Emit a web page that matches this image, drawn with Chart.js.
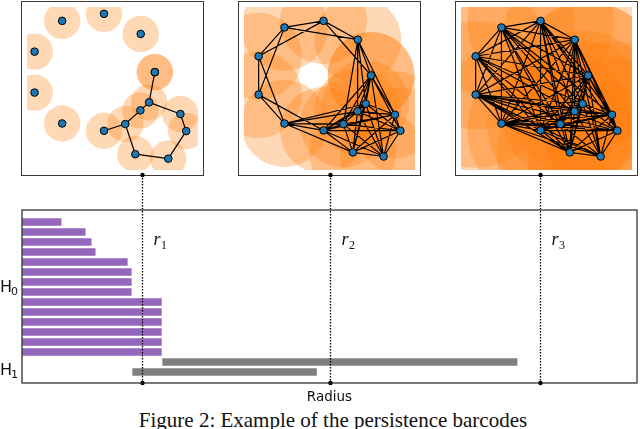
<!DOCTYPE html>
<html>
<head>
<meta charset="utf-8">
<script src="https://cdn.jsdelivr.net/npm/chart.js@4.4.1/dist/chart.umd.min.js"></script>
<style>
  body { margin: 0; width: 640px; height: 429px; overflow: hidden; background: #fff; position: relative; }
  .panel { position: absolute; top: 1px; width: 181px; height: 173px; border: 1px solid #3a3a3a; }
  .panel canvas { display: block; }
  #barcode { position: absolute; left: 0; top: 0; z-index: 2; pointer-events: none; }
  #caption { position: absolute; left: 0; top: 410px; width: 666px; text-align: center;
             font: 21px/21px "Liberation Serif", serif; color: #111; white-space: nowrap; }
</style>
</head>
<body>
<div class="panel" style="left:21px"><canvas id="p1" width="181" height="173"></canvas></div>
<div class="panel" style="left:238px"><canvas id="p2" width="181" height="173"></canvas></div>
<div class="panel" style="left:455px"><canvas id="p3" width="181" height="173"></canvas></div>
<canvas id="barcode" width="640" height="429"></canvas>
<div id="caption">Figure 2: Example of the persistence barcodes</div>

<script>
// ---- point cloud (same 16 points in every panel, one point is doubled) ----
const cloudX = [43.3, 84.7, 121.0, 16.0, 135.0, 135.0, 16.0, 129.3, 120.7, 160.3, 43.3, 105.7, 84.7, 166.0, 115.7, 148.3];
const cloudY = [151.3, 158.3, 138.3, 120.7, 100.3, 100.3, 80.0, 70.3, 62.3, 58.7, 49.3, 48.7, 42.0, 41.7, 18.7, 14.3];

// ball radius for each snapshot r1, r2, r3
const radii = [18.0, 46.0, 77.5];
const radiusNames = ['1', '2', '3'];

// edges of the first snapshot (index pairs into the cloud)
const edgesFirst = [[4, 7], [7, 8], [7, 9], [8, 11], [11, 12], [11, 14], [14, 15], [15, 13], [13, 9]];

// axis limits of the three snapshots
const panelXLim = [[8.5, 177.7], [0.5, 181.5], [0.5, 181.5]];
const panelYLim = [[3.0, 165.1], [0, 173], [0, 173]];

// ---- barcode ----
const h0Deaths = [5.9, 9.5, 10.4, 11.0, 15.8, 16.4, 16.4, 16.4, 20.9, 20.9, 20.9, 20.9, 20.9, 20.9];
const h1Births = [21.0, 16.5];
const h1Deaths = [74.1, 44.1];
const radiusMax = 92;

const PANEL_BOTTOM = 175;

const cloud = cloudX.map((x, i) => ({ x, y: cloudY[i] }));

function segments(pairs) {
  const out = [];
  pairs.forEach(([a, b]) => out.push(cloud[a], cloud[b], { x: null, y: null }));
  return out;
}

// all pairs whose balls touch
function pairsWithin(r) {
  const pairs = [];
  for (let i = 0; i < cloud.length; i++)
    for (let j = i + 1; j < cloud.length; j++)
      if (Math.hypot(cloudX[i] - cloudX[j], cloudY[i] - cloudY[j]) <= 2 * r) pairs.push([i, j]);
  return pairs;
}

function drawPanel(id, k) {
  const r = radii[k];
  const pairs = k === 0 ? edgesFirst : pairsWithin(r);
  new Chart(document.getElementById(id), {
    type: 'scatter',
    data: {
      datasets: [
        {
          data: cloud, order: 3, clip: 0,
          pointBackgroundColor: 'rgba(255,127,14,0.3)', pointBorderWidth: 0,
          pointRadius: ctx => {
            const s = ctx.chart.scales.x;
            return Math.abs(s.getPixelForValue(r) - s.getPixelForValue(0));
          }
        },
        {
          data: segments(pairs), order: 2, clip: 0, showLine: true, spanGaps: false,
          borderColor: '#000', borderWidth: 1.2, pointRadius: 0
        },
        {
          data: cloud, order: 1, clip: 6,
          pointRadius: 3.8, pointBackgroundColor: '#1f77b4',
          pointBorderColor: '#000', pointBorderWidth: 1
        }
      ]
    },
    options: {
      responsive: false, animation: false, events: [],
      layout: { padding: 0 },
      scales: {
        x: { type: 'linear', min: panelXLim[k][0], max: panelXLim[k][1], display: false },
        y: { type: 'linear', min: panelYLim[k][0], max: panelYLim[k][1], display: false }
      },
      plugins: { legend: { display: false }, tooltip: { enabled: false } }
    }
  });
}

drawPanel('p1', 0);
drawPanel('p2', 1);
drawPanel('p3', 2);

const barcodeDecor = {
  id: 'barcodeDecor',
  afterDatasetsDraw(chart) {
    const { ctx, chartArea: a, scales: { x, y } } = chart;
    ctx.save();
    // frame
    ctx.strokeStyle = '#333';
    ctx.lineWidth = 1.3;
    ctx.strokeRect(a.left, a.top, a.right - a.left, a.bottom - a.top);

    // snapshot markers
    radii.forEach((r, i) => {
      const px = Math.round(x.getPixelForValue(r)) + 0.5;
      ctx.strokeStyle = '#000';
      ctx.lineWidth = 1.3;
      ctx.setLineDash([1.5, 1.5]);
      ctx.beginPath();
      ctx.moveTo(px, PANEL_BOTTOM);
      ctx.lineTo(px, a.bottom);
      ctx.stroke();
      ctx.setLineDash([]);
      ctx.fillStyle = '#000';
      [PANEL_BOTTOM, a.bottom].forEach(py => {
        ctx.beginPath();
        ctx.arc(px, py, 2.2, 0, Math.PI * 2);
        ctx.fill();
      });
      ctx.fillStyle = '#111';
      ctx.font = 'italic 18px "Liberation Serif"';
      ctx.textAlign = 'left';
      ctx.textBaseline = 'alphabetic';
      ctx.fillText('r', px + 11, 245);
      const w = ctx.measureText('r').width;
      ctx.font = '12px "Liberation Serif"';
      ctx.fillText(radiusNames[i], px + 11 + w + 0.5, 248.5);
    });

    // homology labels
    ctx.fillStyle = '#111';
    ctx.textAlign = 'left';
    [['0', y.getPixelForValue((h0Deaths.length - 1) / 2) + 5],
     ['1', y.getPixelForValue(h0Deaths.length + 0.8) + 5]].forEach(([d, base]) => {
      ctx.font = '16px "DejaVu Sans"';
      ctx.fillText('H', 0, base);
      const w = ctx.measureText('H').width;
      ctx.font = '11px "DejaVu Sans"';
      ctx.fillText(d, w - 1, base + 3);
    });

    // axis name
    ctx.font = '13.5px "DejaVu Sans"';
    ctx.textAlign = 'center';
    ctx.fillText('Radius', (a.left + a.right) / 2, 400.5);
    ctx.restore();
  }
};

new Chart(document.getElementById('barcode'), {
  type: 'bar',
  data: {
    datasets: [
      {
        label: 'H0',
        data: h0Deaths.map((d, i) => ({ x: [0, d], y: i })),
        backgroundColor: '#9467bd'
      },
      {
        label: 'H1',
        data: h1Births.map((b, i) => ({ x: [b, h1Deaths[i]], y: h0Deaths.length + i })),
        backgroundColor: '#7f7f7f'
      }
    ]
  },
  options: {
    indexAxis: 'y',
    responsive: false, animation: false, events: [],
    layout: { padding: { left: 22, right: 3, top: 210, bottom: 46 } },
    datasets: { bar: { grouped: false, categoryPercentage: 1, barPercentage: 0.74 } },
    scales: {
      x: { type: 'linear', min: 0, max: radiusMax, display: false },
      y: { type: 'linear', offset: false, min: -1.2, max: h0Deaths.length + h1Births.length + 0.1, reverse: true, display: false }
    },
    plugins: { legend: { display: false }, tooltip: { enabled: false } }
  },
  plugins: [barcodeDecor]
});
</script>
</body>
</html>
